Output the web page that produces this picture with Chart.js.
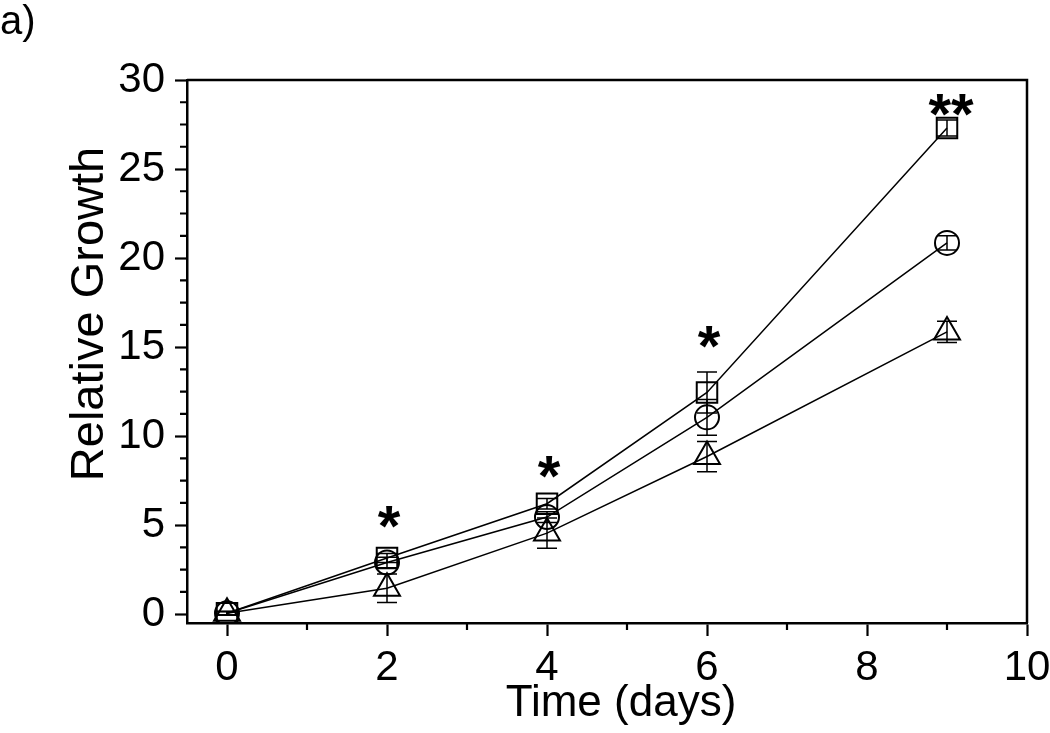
<!DOCTYPE html>
<html><head><meta charset="utf-8">
<script src="https://cdn.jsdelivr.net/npm/chart.js@4"></script>
<style>html,body{margin:0;padding:0;background:#fff}canvas{display:block}</style>
</head><body>
<canvas id="c" width="1050" height="733"></canvas>
<script>
const days = [0, 2, 4, 6, 9];
const squareVals = [0.05, 3.15, 6.2, 12.45, 27.3];
const squareErr = [0.1, 0.25, 0.3, 1.15, 0.45];
const circleVals = [0.05, 2.9, 5.45, 11.05, 20.85];
const circleErr = [0.1, 0.3, 0.3, 1.0, 0.4];
const triangleVals = [0.05, 1.45, 4.55, 8.85, 15.85];
const triangleErr = [0.1, 0.8, 0.85, 0.85, 0.6];
const xTickValues = [0, 2, 4, 6, 8, 10];
const xMinorValues = [1, 3, 5, 7, 9];
const yTickValues = [0, 5, 10, 15, 20, 25, 30];
const yMinorValues = [1.25, 2.5, 3.75, 6.25, 7.5, 8.75, 11.25, 12.5, 13.75, 16.25, 17.5, 18.75, 21.25, 22.5, 23.75, 26.25, 27.5, 28.75];
const starX = [2, 4, 6, 9];
const starY = [5.7, 8.5, 15.8, 28.8];
const starText = ['*', '*', '*', '**'];
const panelLabel = 'a)';
const xTitle = 'Time (days)';
const yTitle = 'Relative Growth';

const FONT = "'Liberation Sans', Arial, sans-serif";
const toPts = (vals) => days.map((d, i) => ({x: d, y: vals[i]}));

const extras = {
  id: 'extras',
  afterDatasetsDraw(chart) {
    const {ctx, scales: {x, y}} = chart;
    const errs = [squareErr, circleErr, triangleErr];
    const vals = [squareVals, circleVals, triangleVals];
    ctx.save();
    ctx.strokeStyle = '#000';
    ctx.lineWidth = 1.5;
    vals.forEach((vs, k) => {
      vs.forEach((v, j) => {
        const px = x.getPixelForValue(days[j]);
        const yt = y.getPixelForValue(v + errs[k][j]);
        const yb = y.getPixelForValue(v - errs[k][j]);
        ctx.beginPath();
        ctx.moveTo(px, yt); ctx.lineTo(px, yb);
        ctx.moveTo(px - 10, yt); ctx.lineTo(px + 10, yt);
        ctx.moveTo(px - 10, yb); ctx.lineTo(px + 10, yb);
        ctx.stroke();
      });
    });
    ctx.restore();
  },
  afterDraw(chart) {
    const {ctx, chartArea: a, scales: {x, y}} = chart;
    ctx.save();
    ctx.strokeStyle = '#000';
    ctx.lineWidth = 2.5;
    ctx.beginPath();
    ctx.moveTo(a.left, a.top); ctx.lineTo(a.right, a.top); ctx.lineTo(a.right, a.bottom);
    ctx.stroke();
    ctx.lineWidth = 2.2;
    ctx.beginPath();
    xMinorValues.forEach(v => {
      const px = x.getPixelForValue(v);
      ctx.moveTo(px, a.bottom); ctx.lineTo(px, a.bottom + 7);
    });
    yMinorValues.forEach(v => {
      const py = y.getPixelForValue(v);
      ctx.moveTo(a.left, py); ctx.lineTo(a.left - 7, py);
    });
    ctx.stroke();
    ctx.fillStyle = '#000';
    ctx.font = 'bold 58px ' + FONT;
    ctx.textAlign = 'center';
    ctx.textBaseline = 'alphabetic';
    starX.forEach((sx, i) => {
      ctx.fillText(starText[i], x.getPixelForValue(sx) + (starText[i].length > 1 ? 4 : 2), y.getPixelForValue(starY[i]) + 0.57 * 58);
    });
    // axis titles
    ctx.font = '44px ' + FONT;
    ctx.textAlign = 'center';
    ctx.fillText(xTitle, 621, 716);
    ctx.save();
    ctx.translate(103, 314);
    ctx.rotate(-Math.PI / 2);
    ctx.font = '47px ' + FONT;
    ctx.fillText(yTitle, 0, 0);
    ctx.restore();
    ctx.font = '40px ' + FONT;
    ctx.textAlign = 'left';
    ctx.fillText(panelLabel, 0, 34);
    ctx.restore();
  }
};

new Chart(document.getElementById('c'), {
  type: 'line',
  data: {
    datasets: [
      {data: toPts(squareVals), pointStyle: 'rect', pointRadius: 14.5},
      {data: toPts(circleVals), pointStyle: 'circle', pointRadius: 12},
      {data: toPts(triangleVals), pointStyle: 'triangle', pointRadius: 15}
    ].map(d => Object.assign(d, {
      borderColor: '#000', borderWidth: 1.5, tension: 0,
      pointBorderColor: '#000', pointBackgroundColor: 'rgba(0,0,0,0)', pointBorderWidth: 2,
      pointHoverRadius: d.pointRadius
    }))
  },
  options: {
    responsive: false,
    devicePixelRatio: 1,
    animation: false,
    events: [],
    layout: {padding: {left: 0, top: 80, right: 23, bottom: 0}},
    plugins: {legend: {display: false}, tooltip: {enabled: false}},
    scales: {
      x: {
        type: 'linear', min: -0.5, max: 10,
        afterBuildTicks: s => { s.ticks = xTickValues.map(v => ({value: v})); },
        afterFit: s => { s.height = 110; s.paddingRight = 0; s.paddingLeft = 0; },
        grid: {drawOnChartArea: false, drawTicks: true, tickLength: 13, tickWidth: 2.2, tickColor: '#000'},
        border: {display: true, color: '#000', width: 2.5},
        ticks: {color: '#000', font: {family: FONT, size: 42}, padding: 7, maxRotation: 0, autoSkip: false},
        title: {display: false}
      },
      y: {
        type: 'linear', min: -0.5, max: 30,
        afterBuildTicks: s => { s.ticks = yTickValues.map(v => ({value: v})); },
        afterFit: s => { s.width = 187; s.paddingTop = 0; s.paddingBottom = 0; },
        grid: {drawOnChartArea: false, drawTicks: true, tickLength: 12, tickWidth: 2.2, tickColor: '#000'},
        border: {display: true, color: '#000', width: 2.5},
        ticks: {color: '#000', font: {family: FONT, size: 42}, padding: 10, autoSkip: false},
        title: {display: false}
      }
    }
  },
  plugins: [extras]
});
</script>
</body></html>
